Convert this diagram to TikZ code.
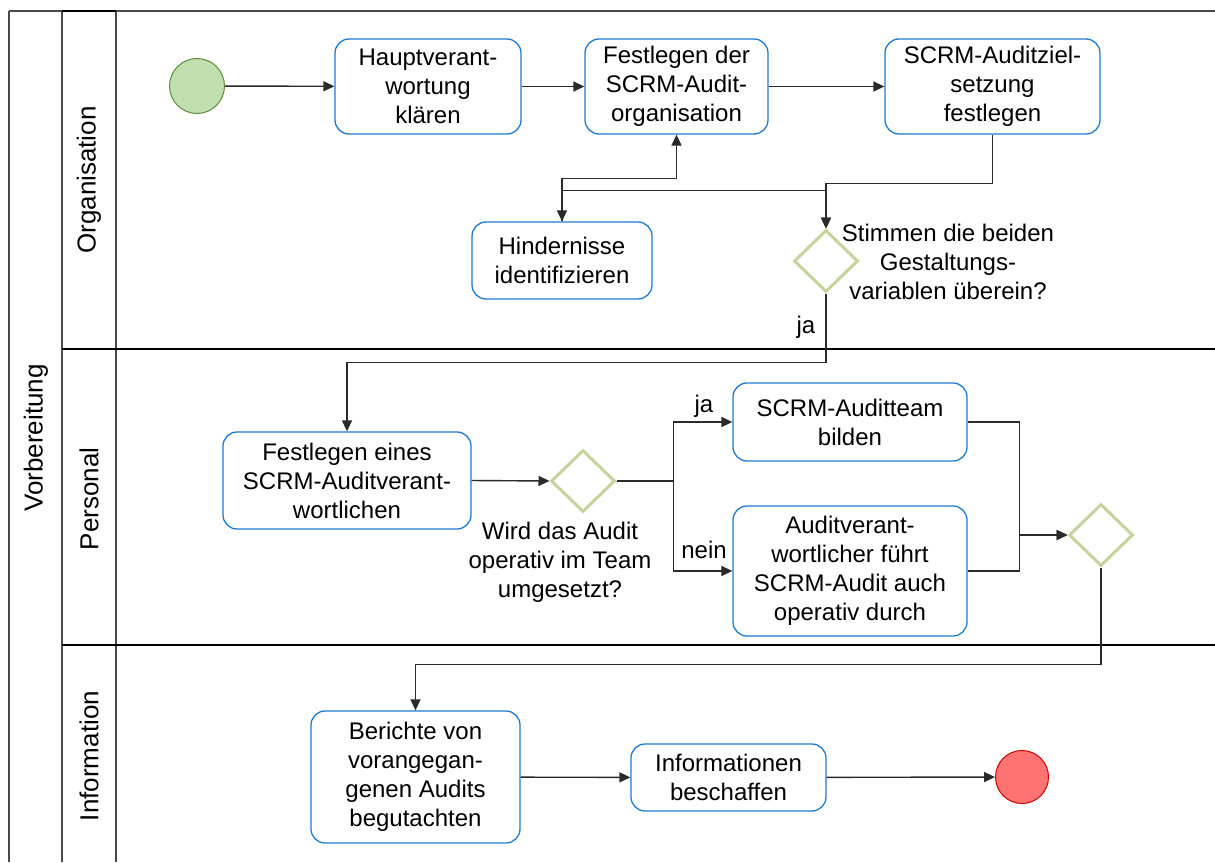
\documentclass[tikz,border=0pt]{standalone}
\usepackage{fontspec}
\setmainfont{Liberation Sans}
\usetikzlibrary{shapes.geometric,arrows.meta}

\definecolor{taskblue}{HTML}{1F7BCF}
\definecolor{gwgreen}{HTML}{C5D39C}
\definecolor{startfill}{HTML}{C2DFB0}
\definecolor{startline}{HTML}{5B8C3C}
\definecolor{endfill}{HTML}{FF7373}
\definecolor{endline}{HTML}{CC0000}
\definecolor{flowgray}{HTML}{2A2A2A}
\definecolor{lanegray}{HTML}{4A4A4A}

\begin{document}
\begin{tikzpicture}[x=1pt,y=-1pt,
  txt/.style={font=\fontsize{24}{29}\selectfont, align=center, inner sep=0pt},
  lanelabel/.style={font=\fontsize{26}{30}\selectfont, inner sep=0pt, rotate=90},
  task/.style={txt, draw=taskblue, line width=1.3pt, rounded corners=14pt},
  gateway/.style={diamond, draw=gwgreen, line width=3pt, inner sep=0pt,
    minimum width=64pt, minimum height=62pt},
  startev/.style={circle, draw=startline, fill=startfill, line width=1pt,
    minimum size=55pt, inner sep=0pt},
  endev/.style={circle, draw=endline, fill=endfill, line width=1pt,
    minimum size=53pt, inner sep=0pt},
  flow/.style={draw=flowgray, line width=1.4pt,
    -{Triangle[length=11pt,width=10pt]}},
  lane/.style={draw=lanegray, line width=1.3pt},
  lanesep/.style={draw=black, line width=1.8pt},
]
\useasboundingbox (0,0) rectangle (1215,862);

% pool and lanes
\draw[lane] (9,11) -- (9,862);
\draw[lane] (62,11) -- (62,862);
\draw[lane] (116,11) -- (116,862);
\draw[lane] (9,11) -- (1215,11);
\draw[lanesep] (62,11) -- (116,11);
\draw[lanesep] (62,349) -- (1215,349);
\draw[lanesep] (62,645) -- (1215,645);

\node[lanelabel] (pool) at (36,438) {Vorbereitung};
\node[lanelabel] (laneorg) at (89,180) {Organisation};
\node[lanelabel] (laneper) at (89,499) {Personal};
\node[lanelabel] (laneinf) at (89,756) {Information};

% Organisation
\node[startev] (start) at (197,86) {};
\node[task, minimum width=186pt, minimum height=95pt] (haupt) at (428,86.5)
  {Hauptverant-\\wortung\\klären};
\node[task, minimum width=183pt, minimum height=95pt] (festorg) at (676.5,86.5)
  {Festlegen der\\SCRM-Audit-\\organisation};
\node[task, minimum width=215pt, minimum height=95pt] (ziel) at (992.5,86.5)
  {SCRM-Auditziel-\\setzung\\festlegen};
\node[task, minimum width=180pt, minimum height=77pt] (hind) at (562,260.5)
  {Hindernisse\\identifizieren};
\node[gateway] (g1) at (826,261) {};
\node[txt] (g1lab) at (948,262) {Stimmen die beiden\\Gestaltungs-\\variablen überein?};

% Personal
\node[task, minimum width=248pt, minimum height=97pt] (festver) at (347,480.5)
  {Festlegen eines\\SCRM-Auditverant-\\wortlichen};
\node[gateway] (g2) at (583,481) {};
\node[txt] (g2lab) at (560,562) {Wird das Audit\\operativ im Team\\umgesetzt?};
\node[task, minimum width=234pt, minimum height=78pt] (team) at (850,422)
  {SCRM-Auditteam\\bilden};
\node[task, minimum width=234pt, minimum height=130pt] (opdurch) at (850,571)
  {Auditverant-\\wortlicher führt\\SCRM-Audit auch\\operativ durch};
\node[gateway] (g3) at (1101,535) {};

% Information
\node[task, minimum width=209pt, minimum height=132pt] (berichte) at (415.5,777)
  {Berichte von\\vorangegan-\\genen Audits\\begutachten};
\node[task, minimum width=195pt, minimum height=67pt] (info) at (728.5,777.5)
  {Informationen\\beschaffen};
\node[endev] (stop) at (1022,777) {};

% sequence flows
\draw[flow] (start) -- (haupt);
\draw[flow] (haupt) -- (festorg);
\draw[flow] (festorg) -- (ziel);
\draw[flow] (ziel.south) -- ++(0,49) -| (g1.north);
\draw[flow] (hind.north) -- ++(0,-31) -| (g1.north);
\draw[flow, {Triangle[length=11pt,width=10pt]}-{Triangle[length=11pt,width=10pt]}]
  (hind.north) -- ++(0,-43) -| (festorg.south);
\draw[flow] (g1.south) -- ++(0,69) -| (festver.north);
\node[txt] (jaone) at (806,327) {ja};

\draw[flow] (festver.east) -- (g2.west);
\draw[flow] (g2.east) -- ++(57,0) |- (team.west);
\draw[flow] (g2.east) -- ++(57,0) |- (opdurch.west);
\node[txt] (jatwo) at (704,406) {ja};
\node[txt] (nein) at (704,550) {nein};
\draw[flow] (team.east) -- ++(52,0) |- (g3.west);
\draw[flow] (opdurch.east) -- ++(52,0) |- (g3.west);

\draw[flow] (g3.south) -- ++(0,97) -| (berichte.north);
\draw[flow] (berichte) -- (info);
\draw[flow] (info) -- (stop);
\end{tikzpicture}
\end{document}
